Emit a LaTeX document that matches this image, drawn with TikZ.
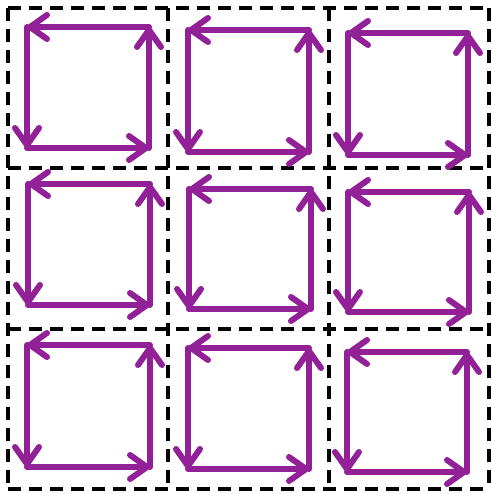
\documentclass[tikz,border=0pt]{standalone}
\usetikzlibrary{arrows.meta}
\definecolor{loopcol}{RGB}{146,32,150}
\tikzset{
  gridline/.style={line width=4pt, dash pattern=on 13pt off 8pt},
  side/.style={loopcol, line width=6pt, line cap=round,
    -{Straight Barb[length=17pt, width=24pt, round]}}
}
\begin{document}
\begin{tikzpicture}[x=1pt,y=-1pt]
\useasboundingbox (0,0) rectangle (491,494);
% dashed grid
\foreach \v in {8,168,329,489}{
  \draw[gridline] (8,\v) -- (489,\v);
  \draw[gridline] (\v,8) -- (\v,489);
}
% circulation loops: L/R/T/B
\foreach \n/\L/\R/\T/\B in {
  a/27/149/27/148, b/188/309/30/152, c/348/468/33/155,
  d/28/150/184/305, e/189/311/189/309, f/348/469/192/312,
  g/27/150/345/467, h/188/309/348/469, i/347/467/352/472}{
  \coordinate (\n tl) at (\L,\T);
  \coordinate (\n bl) at (\L,\B);
  \coordinate (\n br) at (\R,\B);
  \coordinate (\n tr) at (\R,\T);
  \draw[side] (\n tl) -- (\n bl);
  \draw[side] (\n bl) -- (\n br);
  \draw[side] (\n br) -- (\n tr);
  \draw[side] (\n tr) -- (\n tl);
}
\end{tikzpicture}
\end{document}
